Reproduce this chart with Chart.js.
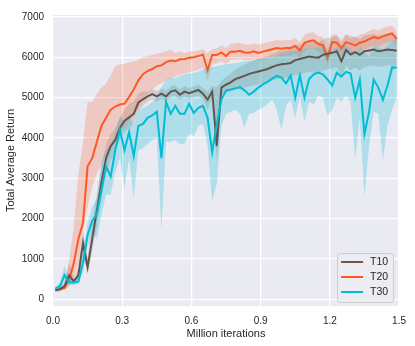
<!DOCTYPE html>
<html>
<head>
<meta charset="utf-8">
<script src="https://cdn.jsdelivr.net/npm/chart.js@4/dist/chart.umd.min.js"></script>
<style>
  html, body { margin: 0; padding: 0; background: #fff; }
</style>
</head>
<body>
<canvas id="chart" width="415" height="346"></canvas>
<script>
// Training curves: mean return with a shaded band per setting.

const iters = [0.01,0.03,0.05,0.07,0.09,0.11,0.13,0.15,0.17,0.19,
  0.21,0.23,0.25,0.27,0.29,0.31,0.33,0.35,0.37,0.39,
  0.41,0.43,0.45,0.47,0.49,0.51,0.53,0.55,0.57,0.59,
  0.61,0.63,0.65,0.67,0.69,0.71,0.73,0.75,0.77,0.79,
  0.81,0.83,0.85,0.87,0.89,0.91,0.93,0.95,0.97,0.99,
  1.01,1.03,1.05,1.07,1.09,1.11,1.13,1.15,1.17,1.19,
  1.21,1.23,1.25,1.27,1.29,1.31,1.33,1.35,1.37,1.39,
  1.41,1.43,1.45,1.47,1.49];

const xTicks = [0, 0.3, 0.6, 0.9, 1.2, 1.5];
const yTicks = [0, 1000, 2000, 3000, 4000, 5000, 6000, 7000];
const labels = ['T10', 'T20', 'T30'];
const colors = ['#795548', '#FF5722', '#00BCD4'];
const lineColors = ['#64544f', '#FF5722', '#00BCD4'];

const t10 = [230,250,330,600,450,600,1400,800,1500,2200,
  2900,3500,3800,3950,4250,4430,4510,4600,4880,4960,
  5030,5090,5030,5100,5030,5150,5180,5070,5150,5110,
  5150,5190,5100,4950,5150,3800,5250,5320,5380,5460,
  5500,5540,5590,5620,5650,5680,5710,5760,5800,5830,
  5840,5860,5930,5960,5990,6020,6000,5990,6060,6090,
  6110,6150,5900,6180,6070,6130,6060,6150,6170,6190,
  6150,6170,6190,6180,6160];
const t10Lo = [180,200,270,450,380,480,1100,650,1200,1800,
  2500,3100,3450,3650,3950,4150,4250,4350,4650,4800,
  4900,4960,4900,4970,4900,5020,5050,4940,5020,4980,
  5020,5050,4960,4700,5000,3400,5080,5120,5150,5200,
  5220,5250,5280,5300,5320,5350,5380,5420,5450,5480,
  5480,5500,5560,5580,5610,5640,5620,5610,5670,5700,
  5720,5760,5500,5790,5680,5740,5670,5760,5780,5800,
  5760,5780,5800,5790,5770];
const t10Hi = [290,300,400,900,550,800,1700,1050,1900,2600,
  3300,3850,4100,4250,4500,4700,4850,4900,5100,5150,
  5150,5220,5160,5230,5160,5280,5310,5200,5280,5240,
  5280,5320,5240,5150,5300,5250,5420,5520,5600,5700,
  5760,5820,5880,5920,5960,5990,6030,6080,6130,6170,
  6190,6210,6290,6320,6360,6400,6380,6370,6440,6480,
  6500,6540,6350,6570,6460,6520,6450,6540,6560,6580,
  6540,6560,6580,6570,6550];

const t20 = [250,260,280,480,900,1500,1900,3300,3500,3900,
  4300,4500,4700,4780,4830,4850,5020,5200,5430,5580,
  5660,5710,5780,5800,5880,5920,5900,5950,5960,5990,
  6000,6030,6070,5680,6060,6060,6120,6030,6140,6140,
  6160,6120,6110,6150,6110,6140,6170,6200,6230,6210,
  6230,6230,6280,6170,6360,6400,6420,6330,6300,5990,
  6380,6360,6220,6370,6340,6290,6360,6390,6450,6500,
  6470,6520,6560,6590,6450];
const t20Lo = [200,220,240,300,550,900,1700,2300,2800,3100,
  3350,3600,3800,3950,4100,4250,4450,4600,4750,4950,
  5100,5200,5300,5360,5430,5480,5520,5560,5600,5630,
  5660,5690,5750,5400,5820,5850,5900,5830,5930,5940,
  5960,5930,5920,5960,5920,5950,5980,6010,6040,6020,
  6040,6040,6090,5980,6160,6200,6220,6130,6100,5800,
  6180,6160,6020,6170,6140,6090,6160,6190,6250,6300,
  6270,6320,6360,6390,6250];
const t20Hi = [300,320,360,950,1800,3100,3900,4900,4900,5100,
  5250,5350,5550,5790,5820,5840,5870,5900,5940,6000,
  6030,6060,6080,6120,6150,6190,6100,6150,6100,6140,
  6150,6170,6200,6100,6200,6220,6300,6230,6340,6340,
  6360,6320,6310,6350,6310,6340,6370,6400,6430,6410,
  6430,6430,6480,6370,6560,6600,6620,6530,6500,6200,
  6580,6560,6420,6570,6540,6490,6560,6590,6650,6700,
  6670,6720,6760,6790,6650];

const t30 = [260,330,600,420,420,440,900,1600,1950,2100,
  2700,3300,3050,3700,4200,3700,4150,3550,4300,4350,
  4500,4560,4650,3500,4900,4600,4800,4600,4600,4850,
  4620,4750,4800,4500,3650,4350,4950,5180,5200,5230,
  5260,5180,5070,5150,5250,5330,5390,5470,5540,5500,
  5350,5550,5000,5550,5000,5460,5580,5620,5580,5450,
  5300,5620,5520,5640,5600,5000,5450,4100,4650,5450,
  5250,4950,5300,5750,5740];
const t30Lo = [200,260,400,350,350,380,700,1300,1650,1500,
  2100,2600,2600,3150,3500,2750,3500,2500,3700,3750,
  3850,3950,4000,1700,3900,3900,3950,3850,3850,4100,
  4050,4300,4350,3800,2430,2870,4300,4600,4650,4700,
  4600,4250,4600,4620,4700,4750,4850,4950,4700,4200,
  4800,4950,4500,5030,4400,4900,4830,5050,5000,4550,
  4700,5000,4900,5050,4900,3460,4500,2550,3800,4650,
  4600,3450,4300,4700,5000];
const t30Hi = [320,420,820,520,520,560,1150,1900,2300,2500,
  3400,3700,3800,4150,4550,4400,4550,4300,4650,4750,
  4800,4900,5000,5250,5450,5500,5480,5530,5580,5590,
  5620,5650,5700,5740,5760,5780,5800,5830,5840,5850,
  5880,5900,5910,5930,5950,5970,5980,6000,6050,6100,
  6120,6150,6150,6200,6210,6220,6230,6250,6260,6100,
  6200,6250,6200,6300,6200,6100,6250,6150,6000,6300,
  6250,6200,6300,6400,6450];

const FONT = "'Liberation Sans', Arial, sans-serif";
const pts = arr => arr.map((v, i) => ({ x: iters[i], y: v }));
const alpha = (hex, a) => {
  const n = parseInt(hex.slice(1), 16);
  return `rgba(${n >> 16},${(n >> 8) & 255},${n & 255},${a})`;
};

// band = hi filled down to lo; lower "order" draws on top
function band(i, hi, lo, order, a) {
  return [
    { label: labels[i] + ' hi', data: pts(hi), borderWidth: 0, pointRadius: 0,
      backgroundColor: alpha(colors[i], a), fill: '+1', order, band: true },
    { label: labels[i] + ' lo', data: pts(lo), borderWidth: 0, pointRadius: 0,
      backgroundColor: 'transparent', fill: false, order, band: true },
  ];
}
function line(i, data, order) {
  return { label: labels[i], data: pts(data), borderColor: lineColors[i], legendColor: colors[i],
    borderWidth: 2, pointRadius: 0, fill: false, tension: 0, order };
}

const datasets = [
  ...band(0, t10Hi, t10Lo, 6, 0.2),
  ...band(1, t20Hi, t20Lo, 5, 0.22),
  line(1, t20, 4),
  ...band(2, t30Hi, t30Lo, 3, 0.25),
  line(0, t10, 2),
  line(2, t30, 1),
];

const bgPlugin = {
  id: 'bg',
  beforeDraw(chart) {
    const { ctx, chartArea: a } = chart;
    ctx.save();
    ctx.fillStyle = '#eaeaf2';
    ctx.fillRect(a.left, a.top, a.right - a.left, a.bottom - a.top);
    ctx.restore();
  }
};

const legendPlugin = {
  id: 'boxLegend',
  afterDraw(chart) {
    const { ctx, chartArea: a } = chart;
    const items = labels.map(l => chart.data.datasets.find(d => d.label === l));
    const w = 56, h = 49;
    const x0 = a.right - w - 6, y0 = a.bottom - h - 4;
    ctx.save();
    ctx.beginPath();
    ctx.roundRect(x0 + 0.5, y0 + 0.5, w, h, 3);
    ctx.fillStyle = 'rgba(236,236,243,0.9)';
    ctx.fill();
    ctx.strokeStyle = '#cccccc';
    ctx.lineWidth = 1;
    ctx.stroke();
    ctx.font = `10.5px ${FONT}`;
    ctx.textBaseline = 'middle';
    ctx.fillStyle = '#262626';
    items.forEach((d, i) => {
      const y = y0 + 9 + i * 15;
      ctx.beginPath();
      ctx.moveTo(x0 + 4, y);
      ctx.lineTo(x0 + 26, y);
      ctx.strokeStyle = d.legendColor;
      ctx.lineWidth = 2;
      ctx.stroke();
      ctx.fillText(d.label, x0 + 33, y + 0.5);
    });
    ctx.restore();
  }
};

new Chart(document.getElementById('chart').getContext('2d'), {
  type: 'line',
  data: { datasets },
  options: {
    responsive: false,
    animation: false,
    devicePixelRatio: 1,
    layout: { padding: { top: 7, right: 13, left: 0, bottom: 0 } },
    plugins: { legend: { display: false }, tooltip: { enabled: false } },
    scales: {
      x: {
        type: 'linear', min: 0, max: 1.5,
        afterBuildTicks: s => { s.ticks = xTicks.map(v => ({ value: v })); },
        afterFit: s => { s.height = 40; },
        ticks: { callback: v => v.toFixed(1), color: '#262626', font: { family: FONT, size: 10 },
          padding: 9, maxRotation: 0 },
        grid: { color: '#ffffff', lineWidth: 1.3, drawTicks: false },
        border: { display: false },
        title: { display: true, text: 'Million iterations', color: '#262626',
          font: { family: FONT, size: 11 }, padding: { top: 0, bottom: 5 } }
      },
      y: {
        type: 'linear', min: -162, max: 7048,
        afterBuildTicks: s => { s.ticks = yTicks.map(v => ({ value: v })); },
        afterFit: s => { s.width = 53; },
        ticks: { callback: v => String(v), color: '#262626', font: { family: FONT, size: 10 }, padding: 9 },
        grid: { color: '#ffffff', lineWidth: 1.3, drawTicks: false },
        border: { display: false },
        title: { display: true, text: 'Total Average Return', color: '#262626',
          font: { family: FONT, size: 11 }, padding: { top: 4, bottom: 0 } }
      }
    }
  },
  plugins: [bgPlugin, legendPlugin]
});
</script>
</body>
</html>
